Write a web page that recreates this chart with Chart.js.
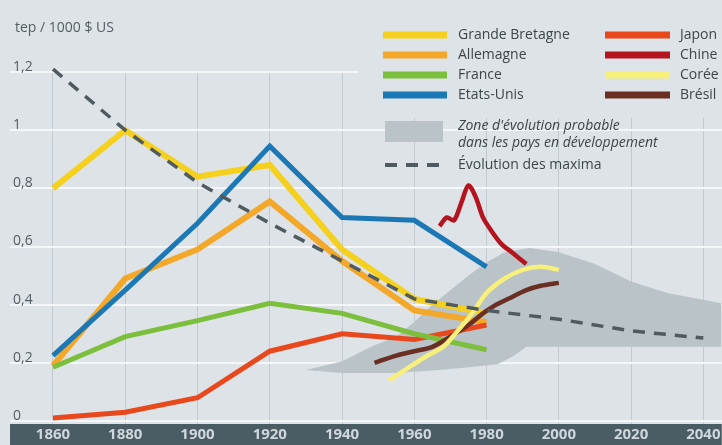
<!DOCTYPE html>
<html><head><meta charset="utf-8">
<style>html,body{margin:0;padding:0;background:#dde3e6;overflow:hidden}</style>
<script src="https://cdn.jsdelivr.net/npm/chart.js@4.4.1/dist/chart.umd.min.js"></script>
</head><body>
<canvas id="c" width="722" height="445"></canvas>
<script>
// ---- data ----
const xTicks = [1860,1880,1900,1920,1940,1960,1980,2000,2020,2040];
const yTicks = [0,0.2,0.4,0.6,0.8,1,1.2];
const yTickLabels = ['0','0,2','0,4','0,6','0,8','1','1,2'];
const unitLabel = 'tep / 1000 $ US';

const histYears = [1860,1880,1900,1920,1940,1960,1980];
const gbValues = [0.80,1.00,0.84,0.88,0.59,0.42,0.37];
const deValues = [0.19,0.49,0.59,0.755,0.55,0.38,0.34];
const frValues = [0.185,0.29,0.345,0.405,0.37,0.30,0.245];
const usValues = [0.225,0.45,0.68,0.945,0.70,0.69,0.53];
const jpValues = [0.01,0.03,0.08,0.24,0.30,0.28,0.33];

const cnYears = [1967,1969,1971,1973,1975,1977,1979,1981,1984,1987,1991];
const cnValues = [0.67,0.70,0.69,0.75,0.81,0.77,0.70,0.66,0.61,0.58,0.54];

const krYears = [1953,1958,1963,1968,1972,1976,1980,1985,1990,1995,2000];
const krValues = [0.14,0.18,0.22,0.255,0.31,0.37,0.44,0.49,0.52,0.53,0.52];

const brYears = [1949,1955,1960,1965,1970,1975,1979,1982,1986,1991,1995,2000];
const brValues = [0.20,0.225,0.24,0.255,0.29,0.33,0.37,0.395,0.42,0.45,0.465,0.475];

const maxYears = [1860,1880,1900,1920,1940,1960,1980,2000,2020,2040];
const maxValues = [1.21,1.00,0.82,0.68,0.55,0.42,0.38,0.35,0.31,0.285];

const zoneTopYears = [1930,1940,1948,1955,1960,1965,1970,1975,1980,1985,1992,2000,2010,2020,2030,2045];
const zoneTopValues = [0.175,0.205,0.255,0.29,0.34,0.40,0.45,0.50,0.545,0.58,0.595,0.58,0.54,0.48,0.44,0.405];
const zoneBottomYears = [1930,1940,1955,1967,1975,1983,1987,1991,2045];
const zoneBottomValues = [0.175,0.165,0.165,0.175,0.185,0.195,0.22,0.255,0.255];

const names = {gb:'Grande Bretagne', de:'Allemagne', fr:'France', us:'Etats-Unis',
  jp:'Japon', cn:'Chine', kr:'Corée', br:'Brésil',
  zone1:"Zone d'évolution probable", zone2:'dans les pays en développement', max:'Évolution des maxima'};

// ---- styles ----
const C = {bg:'#dde3e6', zone:'#b9c3c8', gb:'#f5d01e', de:'#f4a82a', fr:'#7cbf3c', us:'#1b78b5',
  jp:'#e9471c', cn:'#b3141e', kr:'#f7f07a', br:'#6b2e22', max:'#4f5b61', text:'#3e4549'};
const pts = (xs, ys) => xs.map((x,i)=>({x, y: ys[i]}));
const line = (label, xs, ys, color, w, extra) => Object.assign({
  label, data: pts(xs, ys), borderColor: color, borderWidth: w, pointRadius: 0,
  fill: false, tension: 0, clip: false, borderCapStyle: 'butt'
}, extra || {});

const datasets = [
  line(names.max, maxYears, maxValues, C.max, 3.5, {borderDash:[12,9]}),
  line(names.cn, cnYears, cnValues, C.cn, 4.5, {tension:0.3}),
  line(names.kr, krYears, krValues, C.kr, 4.5, {tension:0.3}),
  line(names.br, brYears, brValues, C.br, 4.5, {tension:0.3}),
  line(names.fr, histYears, frValues, C.fr, 5),
  line(names.jp, histYears, jpValues, C.jp, 5),
  line(names.us, histYears, usValues, C.us, 5),
  line(names.gb, histYears, gbValues, C.gb, 6),
  line(names.de, histYears, deValues, C.de, 6),
  {label:'zoneTop', data: pts(zoneTopYears, zoneTopValues), borderWidth:0, pointRadius:0,
    backgroundColor: C.zone, fill: {target: 10}, tension:0},
  {label:'zoneBottom', data: pts(zoneBottomYears, zoneBottomValues), borderWidth:0, pointRadius:0,
    fill:false, tension:0}
];

const legendPlugin = {
  id: 'customLegend',
  afterDraw(chart) {
    const ctx = chart.ctx;
    ctx.save();
    // unit title
    ctx.font = '14px "Open Sans"';
    ctx.fillStyle = '#555d63';
    ctx.textBaseline = 'middle';
    ctx.textAlign = 'left';
    ctx.fillText(unitLabel, 15, 28);
    // legend background
    ctx.fillStyle = C.bg;
    ctx.fillRect(358, 20, 364, 98);
    const rows = [35, 55, 75, 95];
    const left = [[names.gb, C.gb],[names.de, C.de],[names.fr, C.fr],[names.us, C.us]];
    const right = [[names.jp, C.jp],[names.cn, C.cn],[names.kr, C.kr],[names.br, C.br]];
    ctx.lineWidth = 7; ctx.lineCap = 'butt';
    ctx.font = '14px "Open Sans"';
    left.forEach((e,i)=>{
      ctx.strokeStyle = e[1]; ctx.beginPath(); ctx.moveTo(383, rows[i]); ctx.lineTo(447, rows[i]); ctx.stroke();
      ctx.fillStyle = C.text; ctx.fillText(e[0], 458, rows[i]);
    });
    right.forEach((e,i)=>{
      ctx.strokeStyle = e[1]; ctx.beginPath(); ctx.moveTo(605, rows[i]); ctx.lineTo(670, rows[i]); ctx.stroke();
      ctx.fillStyle = C.text; ctx.fillText(e[0], 680, rows[i]);
    });
    ctx.fillStyle = C.zone; ctx.fillRect(385, 121, 58, 21);
    ctx.fillStyle = C.text;
    ctx.font = 'italic 14px "Open Sans"';
    ctx.fillText(names.zone1, 458, 126);
    ctx.fillText(names.zone2, 458, 143);
    ctx.font = '14px "Open Sans"';
    ctx.fillText(names.max, 458, 165);
    ctx.strokeStyle = C.max; ctx.lineWidth = 4; ctx.setLineDash([12,9]);
    ctx.beginPath(); ctx.moveTo(385, 165); ctx.lineTo(445, 165); ctx.stroke();
    ctx.restore();
  }
};

new Chart(document.getElementById('c'), {
  type: 'line',
  data: {datasets},
  plugins: [legendPlugin],
  options: {
    responsive: false, animation: false, devicePixelRatio: 1,
    layout: {padding: {left: 4, top: 72, right: 0, bottom: 0}},
    plugins: {legend: {display: false}, tooltip: {enabled: false}, title: {display: false}},
    scales: {
      x: {
        type: 'linear', position: 'bottom', min: 1848.1, max: 2045.1,
        afterBuildTicks: s => { s.ticks = xTicks.map(v => ({value: v})); },
        backgroundColor: '#4b5d64',
        border: {display: false},
        grid: {drawTicks: false, color: '#c3cacf', lineWidth: 1},
        ticks: {autoSkip: false, maxRotation: 0, padding: 1.5, color: '#cfd7db',
          font: {family: 'Open Sans', size: 15, weight: 'bold'},
          callback: v => String(v)}
      },
      y: {
        type: 'linear', min: -0.0103, max: 1.2,
        afterBuildTicks: s => { s.ticks = yTicks.map(v => ({value: v})); },
        border: {display: false},
        grid: {drawTicks: false, color: '#f4f6f7', lineWidth: 2},
        ticks: {mirror: true, padding: 3, labelOffset: -5, color: '#555d63',
          font: {family: 'Open Sans', size: 14},
          callback: v => { const i = yTicks.indexOf(v); return i >= 0 ? yTickLabels[i] : ''; }}
      }
    }
  }
});
</script>
</body></html>
